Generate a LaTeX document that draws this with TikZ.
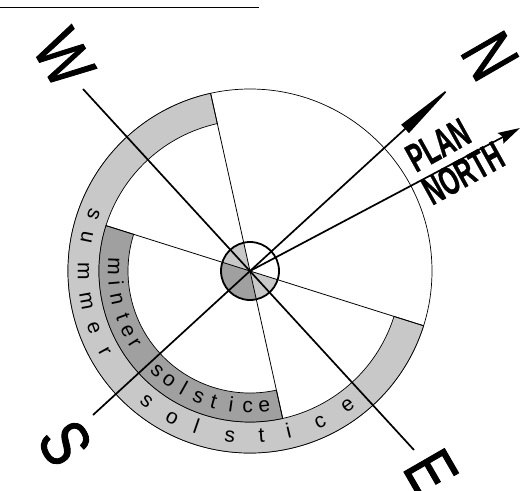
\documentclass[tikz,border=0pt]{standalone}
\usepackage{fontspec}
\setmainfont{Liberation Sans}
\definecolor{summergray}{HTML}{C8C8C8}
\definecolor{wintergray}{HTML}{A0A0A0}
\usetikzlibrary{arrows.meta}
\begin{document}
\begin{tikzpicture}[
  x=1pt, y=1pt,
  band/.style={draw, line width=0.7pt},
  spoke/.style={line width=0.8pt},
  axisline/.style={line width=1.7pt},
  ringtext/.style={font=\fontsize{21}{21}\selectfont, inner sep=0pt, anchor=base},
  compass/.style={font=\fontsize{68}{68}\selectfont\addfontfeature{FakeBold=1.5}, inner sep=0pt, transform shape, rotate=-60},
  plantext/.style={font=\fontsize{40}{40}\selectfont\bfseries\addfontfeature{FakeBold=1}, inner sep=0pt, transform shape, rotate=29, xscale=.6}
]
\clip (-250,-219) rectangle (277,271);
\useasboundingbox (-250,-219) rectangle (277,271);
\coordinate (c) at (0,0);
\coordinate (ruleleft) at (-250,263);
\coordinate (ruleright) at (9,263);
\coordinate (westend) at (-167,182);
\coordinate (eastend) at (164,-179);
\coordinate (southend) at (-157,-144);
\coordinate (northend) at (203,186);
\coordinate (planend) at (270,143);
\draw[line width=1pt] (ruleleft) -- (ruleright);
% rings
\draw[band] (c) circle[radius=182];
\draw[band, fill=summergray] (102.5:182) arc[start angle=102.5, end angle=342.5, radius=182]
  -- (342.5:151) arc[start angle=342.5, end angle=102.5, radius=151] -- cycle;
\draw[band, fill=wintergray] (162.5:151) arc[start angle=162.5, end angle=282.5, radius=151]
  -- (282.5:122) arc[start angle=282.5, end angle=162.5, radius=122] -- cycle;
% spokes
\coordinate (spokea) at (102.5:182);
\coordinate (spokeb) at (162.5:151);
\coordinate (spokec) at (282.5:151);
\coordinate (spoked) at (342.5:182);
\fill[summergray] (c) -- (102.5:29) arc[start angle=102.5, end angle=162.5, radius=29] -- cycle;
\fill[wintergray] (c) -- (162.5:29) arc[start angle=162.5, end angle=282.5, radius=29] -- cycle;
\fill[summergray] (c) -- (282.5:29) arc[start angle=282.5, end angle=342.5, radius=29] -- cycle;
\draw[spoke] (c) -- (spokea);
\draw[spoke] (c) -- (spokeb);
\draw[spoke] (c) -- (spokec);
\draw[spoke] (c) -- (spoked);
\draw[line width=1.8pt] (c) circle[radius=29];
% ring lettering
\foreach \ch/\ang [count=\i] in {s/160,u/168.5,m/180,m/190.3,e/200,r/209,s/231.5,o/242,l/251,s/263,t/274,i/283.5,c/295,e/306}
  \node[ringtext, rotate=\ang-270] (summer\i) at (\ang:172) {\ch};
\foreach \ch/\ang [count=\i] in {m/178,i/185,n/192,t/200,e/206,r/212,s/227,o/233.5,l/240.5,s/247.7,t/254.5,i/262,c/269,e/276}
  \node[ringtext, rotate=\ang-270] (winter\i) at (\ang:142) {\ch};
% axes
\draw[axisline] (westend) -- (eastend);
\draw[axisline, -{Triangle[length=65pt,width=11pt]}] (c) -- (northend);
\draw[axisline] (southend) -- (c);
\draw[axisline, -{Stealth[length=22pt,width=12pt,inset=3pt]}] (c) -- (planend);
\node[compass, xscale=.8] (west) at (-186,213) {W};
\node[compass, xscale=.78, yscale=1.05] (north) at (240,215) {N};
\node[compass, xscale=.8] (east) at (181,-201) {E};
\node[compass, xscale=.8] (south) at (-185,-172) {S};
\node[plantext] (plan) at (188,126) {PLAN};
\node[plantext] (nort) at (213,98) {NORTH};
\end{tikzpicture}
\end{document}
